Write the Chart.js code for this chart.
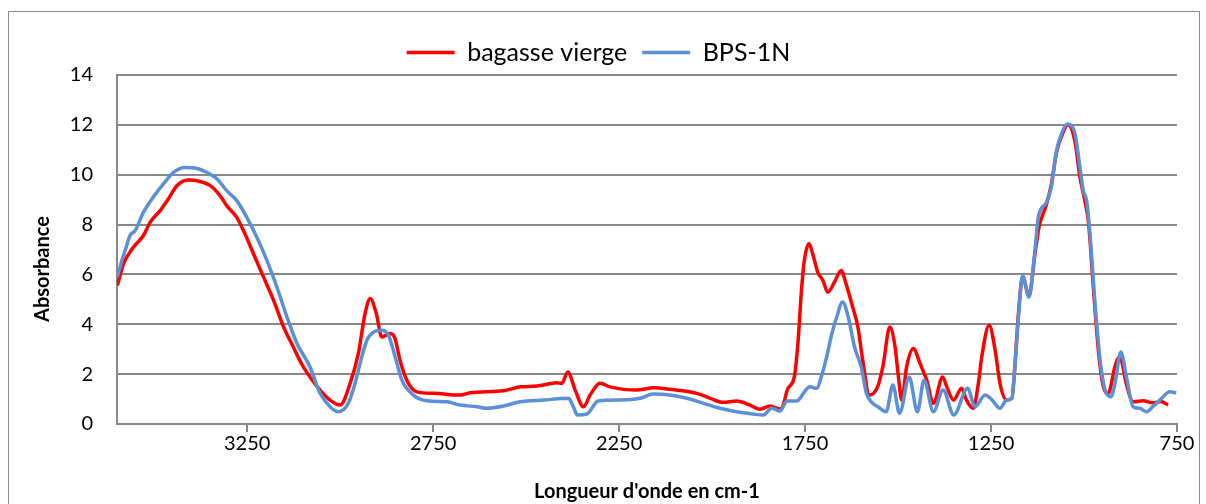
<!DOCTYPE html>
<html lang="fr">
<head>
<meta charset="utf-8">
<title>Absorbance FTIR</title>
<script src="https://cdn.jsdelivr.net/npm/chart.js@4.4.1/dist/chart.umd.min.js"></script>
<style>
  html, body { margin: 0; padding: 0; background: #fff; }
  .chart-wrap { position: relative; width: 1206px; height: 504px; }
</style>
</head>
<body>
<div class="chart-wrap"><canvas id="ftir-chart"></canvas></div>
<script>
// bagasse vierge (rouge)
const wnRed = [3599, 3582, 3556, 3529, 3511, 3484, 3462, 3439, 3408, 3385, 3349, 3323, 3305, 3278, 3260, 3233, 3206, 3179, 3152, 3126,
  3099, 3054, 3027, 3000, 2973, 2951, 2933, 2919, 2903, 2888, 2866, 2854, 2839, 2821, 2794, 2749, 2677, 2651, 2561, 2516,
  2471, 2417, 2404, 2388, 2368, 2346, 2328, 2301, 2274, 2203, 2158, 2113, 2041, 2005, 1970, 1934, 1898, 1871, 1844, 1817,
  1808, 1797, 1779, 1770, 1759, 1752, 1740, 1727, 1716, 1702, 1689, 1671, 1653, 1640, 1622, 1608, 1595, 1577, 1555, 1541,
  1522, 1508, 1499, 1490, 1477, 1459, 1441, 1423, 1405, 1380, 1369, 1351, 1329, 1316, 1298, 1284, 1275, 1255, 1239, 1226,
  1208, 1194, 1186, 1177, 1165, 1148, 1132, 1121, 1101, 1088, 1074, 1056, 1043, 1024, 1011, 997, 988, 975, 961, 948,
  935, 917, 908, 901, 886, 868, 841, 814, 793, 774];
const absRed = [5.56, 6.44, 7.09, 7.56, 8.09, 8.56, 9.03, 9.56, 9.79, 9.76, 9.56, 9.16, 8.76, 8.29, 7.76, 6.83, 5.89, 4.96, 3.89, 3.09,
  2.29, 1.36, 0.96, 0.76, 1.64, 2.83, 4.43, 5.03, 4.44, 3.49, 3.63, 3.49, 2.56, 1.76, 1.29, 1.23, 1.16, 1.25, 1.33, 1.49,
  1.52, 1.65, 1.63, 2.09, 1.36, 0.69, 1.16, 1.63, 1.49, 1.36, 1.45, 1.39, 1.23, 1.03, 0.87, 0.92, 0.76, 0.59, 0.72, 0.60,
  0.8, 1.4, 1.89, 3.09, 5.49, 6.56, 7.23, 6.69, 6.09, 5.76, 5.29, 5.69, 6.16, 5.63, 4.69, 3.89, 2.56, 1.16, 1.49, 2.29,
  3.89, 3.09, 1.89, 0.96, 2.29, 3.03, 2.43, 1.76, 0.83, 1.89, 1.49, 0.96, 1.43, 0.96, 0.63, 1.63, 2.69, 3.96, 2.96, 1.63,
  0.96, 1.03, 2.29, 4.29, 5.9, 5.15, 6.8, 7.9, 8.8, 9.6, 10.9, 11.7, 12.0, 11.3, 9.9, 8.9, 8.1, 5.5, 2.9, 1.5,
  1.23, 2.29, 2.65, 2.6, 1.6, 0.89, 0.93, 0.85, 0.9, 0.76];

// BPS-1N (bleu)
const wnBlue = [3599, 3587, 3578, 3565, 3551, 3529, 3506, 3475, 3448, 3417, 3385, 3358, 3331, 3305, 3278, 3251, 3224, 3197, 3170, 3143,
  3116, 3081, 3054, 3027, 3005, 2978, 2960, 2942, 2928, 2910, 2888, 2870, 2852, 2834, 2803, 2767, 2713, 2677, 2632, 2606,
  2561, 2516, 2453, 2386, 2373, 2362, 2337, 2306, 2247, 2194, 2158, 2113, 2068, 2023, 1979, 1934, 1889, 1862, 1840, 1817,
  1799, 1773, 1746, 1737, 1719, 1705, 1692, 1679, 1665, 1649, 1634, 1617, 1599, 1585, 1572, 1554, 1532, 1514, 1496, 1470,
  1448, 1430, 1405, 1379, 1350, 1313, 1293, 1266, 1247, 1226, 1208, 1194, 1186, 1177, 1165, 1148, 1132, 1123, 1101, 1088,
  1074, 1061, 1045, 1024, 1011, 1002, 993, 984, 971, 957, 944, 928, 917, 901, 886, 868, 850, 832, 815, 796,
  769, 752];
const absBlue = [5.9, 6.56, 6.96, 7.56, 7.76, 8.49, 9.03, 9.63, 10.09, 10.29, 10.25, 10.09, 9.83, 9.36, 8.96, 8.29, 7.49, 6.56, 5.49, 4.29,
  3.23, 2.29, 1.23, 0.69, 0.49, 0.83, 1.63, 2.69, 3.36, 3.69, 3.76, 3.56, 2.69, 1.76, 1.16, 0.93, 0.89, 0.76, 0.69, 0.63,
  0.72, 0.89, 0.96, 1.03, 0.69, 0.36, 0.40, 0.92, 0.96, 1.03, 1.20, 1.16, 1.03, 0.83, 0.63, 0.49, 0.40, 0.36, 0.63, 0.52,
  0.92, 0.92, 1.40, 1.49, 1.43, 1.96, 2.69, 3.56, 4.29, 4.89, 4.29, 3.09, 2.29, 1.23, 0.89, 0.69, 0.49, 1.56, 0.43, 1.89,
  0.49, 1.76, 0.49, 1.36, 0.36, 1.43, 0.69, 1.16, 0.96, 0.63, 0.96, 1.03, 2.29, 4.16, 5.96, 5.09, 6.96, 8.29, 8.89, 9.5,
  10.96, 11.63, 12.03, 11.63, 10.29, 9.36, 8.96, 7.63, 4.96, 2.6, 1.4, 1.09, 1.6, 2.89, 1.89, 0.69, 0.63, 0.49, 0.7, 0.96,
  1.29, 1.25];

const xTicks = [3250, 2750, 2250, 1750, 1250, 750];
const labels = ['bagasse vierge', 'BPS-1N'];
const yTitle = 'Absorbance';

const FONT = 'Lato, "Liberation Sans", sans-serif';
const GRID = '#888888';
const toPts = (xs, ys) => xs.map((x, i) => ({ x, y: ys[i] }));

// cadre gris autour du graphique + titre vertical (Excel le centre un peu plus bas)
const frame = {
  id: 'frame',
  beforeDraw(chart) {
    const { ctx } = chart;
    ctx.save();
    ctx.fillStyle = '#fff';
    ctx.fillRect(0, 0, chart.width, chart.height);
    ctx.strokeStyle = '#8c8c8c';
    ctx.lineWidth = 1;
    ctx.strokeRect(8.5, 11.5, 1191, 500);
    ctx.restore();
  },
  afterDraw(chart) {
    const { ctx } = chart;
    ctx.save();
    ctx.translate(43, 269);
    ctx.rotate(-Math.PI / 2);
    ctx.font = `bold 20px ${FONT}`;
    ctx.fillStyle = '#000';
    ctx.textAlign = 'center';
    ctx.textBaseline = 'middle';
    ctx.fillText(yTitle, 0, 0);
    ctx.restore();
  },
};

new Chart(document.getElementById('ftir-chart'), {
  type: 'line',
  data: {
    datasets: [
      {
        label: labels[0],
        data: toPts(wnRed, absRed),
        borderColor: '#FF0000',
        backgroundColor: '#FF0000',
        borderWidth: 3.5,
        order: 1,
      },
      {
        label: labels[1],
        data: toPts(wnBlue, absBlue),
        borderColor: '#5B8FD6',
        backgroundColor: '#5B8FD6',
        borderWidth: 3.5,
        order: 0,
      },
    ],
  },
  options: {
    responsive: true,
    maintainAspectRatio: false,
    animation: false,
    layout: { padding: { top: 25, left: 20, right: 29, bottom: 0 } },
    elements: {
      point: { radius: 0, hoverRadius: 0 },
      line: { cubicInterpolationMode: 'monotone' },
    },
    plugins: {
      tooltip: { enabled: false },
      legend: {
        position: 'top',
        labels: {
          usePointStyle: true,
          pointStyle: 'line',
          pointStyleWidth: 48,
          color: '#000',
          padding: 15,
          font: { family: FONT, size: 25 },
          sort: (a, b) => a.datasetIndex - b.datasetIndex,
        },
      },
    },
    scales: {
      x: {
        type: 'linear',
        reverse: true,
        min: 750,
        max: 3600,
        afterBuildTicks: (s) => { s.ticks = xTicks.map((v) => ({ value: v })); },
        afterFit: (s) => { s.height = 80; },
        grid: { drawOnChartArea: false, drawTicks: true, tickLength: 8, color: GRID, lineWidth: 2 },
        border: { color: GRID, width: 2 },
        ticks: { color: '#000', font: { family: FONT, size: 20 }, padding: 0, maxRotation: 0, callback: (v) => String(v) },
        title: {
          display: true,
          text: "Longueur d'onde en cm-1",
          color: '#000',
          font: { family: FONT, size: 20, weight: 'bold' },
          padding: { top: 0, bottom: 0 },
        },
      },
      y: {
        min: 0,
        max: 14,
        ticks: { stepSize: 2, color: '#000', font: { family: FONT, size: 20 }, padding: 24 },
        afterFit: (s) => { s.width = 97; },
        grid: { color: GRID, lineWidth: 2, drawTicks: false },
        border: { color: GRID, width: 2 },
      },
    },
  },
  plugins: [frame],
});
</script>
</body>
</html>
